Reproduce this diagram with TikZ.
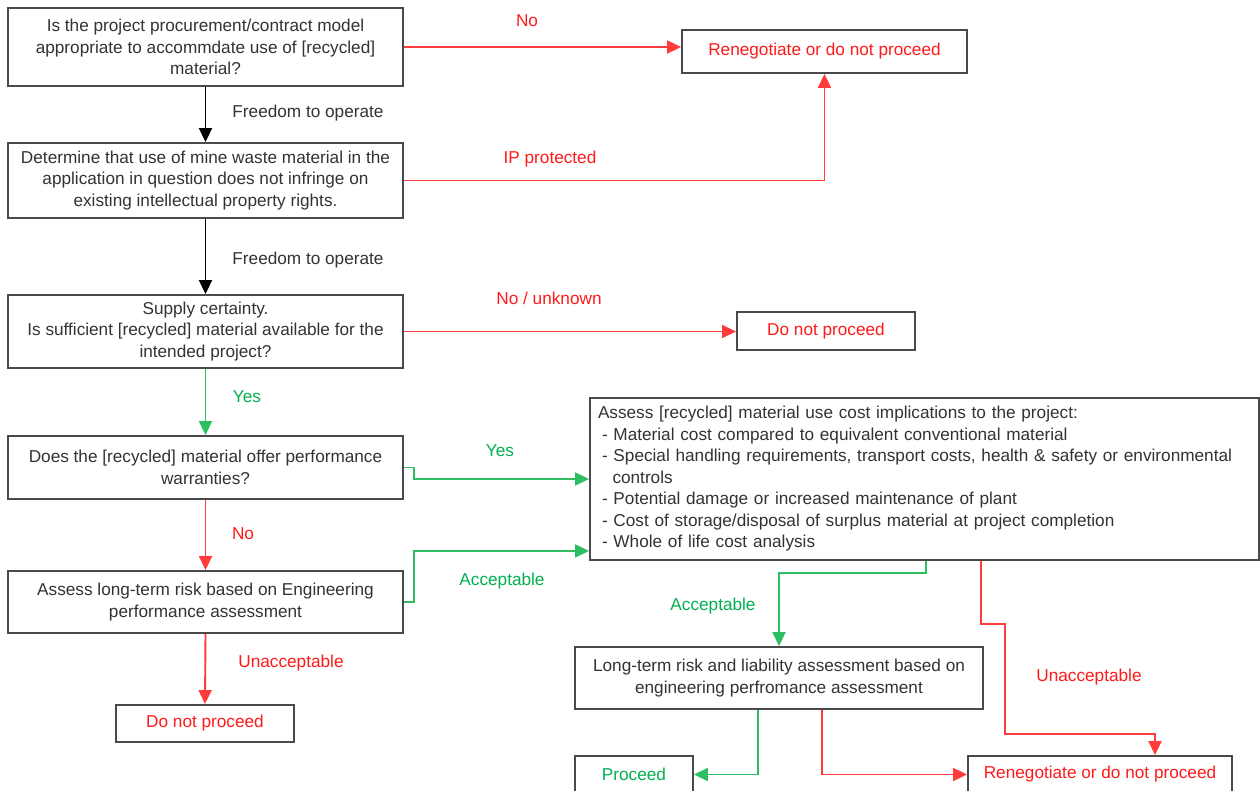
\documentclass[tikz,border=0pt]{standalone}
\usepackage{fontspec}
\setmainfont{Liberation Sans}
\usetikzlibrary{arrows.meta,calc}
\definecolor{boxline}{HTML}{4A4A4A}
\definecolor{txt}{HTML}{333333}
\definecolor{nored}{HTML}{FF1A1A}
\definecolor{redline}{HTML}{FF3B3B}
\definecolor{yesgreen}{HTML}{00B050}
\definecolor{greenline}{HTML}{2DBE62}
\tikzset{
  x=1pt, y=-1pt,
  every node/.style={font=\fontsize{17.2}{21.5}\selectfont, inner sep=0pt},
  stepbox/.style={draw=boxline, line width=1.9pt, fill=white, text=txt, align=center},
  endred/.style={stepbox, text=nored},
  endgreen/.style={stepbox, text=yesgreen},
  tipshape/.style={-{Triangle[length=14pt,width=13pt]}},
  flowblack/.style={draw=black, line width=1.9pt, tipshape},
  flowred/.style={draw=redline, line width=1.9pt, tipshape, color=redline},
  flowgreen/.style={draw=greenline, line width=1.9pt, tipshape, color=greenline},
  lblblack/.style={text=txt},
  lblred/.style={text=nored},
  lblgreen/.style={text=yesgreen},
}
\begin{document}
\begin{tikzpicture}
\clip (0,0) rectangle (1260,791);
\fill[white] (0,0) rectangle (1260,791);

% decision boxes on the left
\node[stepbox, minimum width=395, minimum height=78] (A) at (205.5,47)
  {Is the project procurement/contract model\\appropriate to accommdate use of [recycled]\\material?};
\node[stepbox, minimum width=395, minimum height=75] (B) at (205.5,180.5)
  {Determine that use of mine waste material in the\\application in question does not infringe on\\existing intellectual property rights.};
\node[stepbox, minimum width=395, minimum height=73] (C) at (205.5,331.5)
  {Supply certainty.\\Is sufficient [recycled] material available for the\\intended project?};
\node[stepbox, minimum width=395, minimum height=63] (D) at (205.5,467.5)
  {Does the [recycled] material offer performance\\warranties?};
\node[stepbox, minimum width=395, minimum height=62] (E) at (205.5,602)
  {Assess long-term risk based on Engineering\\performance assessment};

% outcome boxes
\node[endred, minimum width=285, minimum height=43] (Rt) at (824.5,51.5) {Renegotiate or do not proceed};
\node[endred, minimum width=178, minimum height=38] (Nr) at (826,331) {Do not proceed};
\node[endred, minimum width=178, minimum height=37] (Nl) at (205,723.5) {Do not proceed};
\node[endgreen, minimum width=118, minimum height=37] (P) at (634,774.5) {Proceed};
\node[endred, minimum width=264, minimum height=37] (Rb) at (1100,774.5) {Renegotiate or do not proceed};

% cost assessment box
\node[stepbox, align=left, text width=653, minimum width=669, minimum height=162, inner xsep=8pt] (Big) at (924.5,479)
  {Assess [recycled] material use cost implications to the project:\\
   \hspace*{4pt}- Material cost compared to equivalent conventional material\\
   \hspace*{4pt}- Special handling requirements, transport costs, health \& safety or environmental\\
   \hspace*{14.5pt}controls\\
   \hspace*{4pt}- Potential damage or increased maintenance of plant\\
   \hspace*{4pt}- Cost of storage/disposal of surplus material at project completion\\
   \hspace*{4pt}- Whole of life cost analysis};

\node[stepbox, minimum width=408, minimum height=62] (L) at (779,678)
  {Long-term risk and liability assessment based on\\engineering perfromance assessment};

% connectors
\draw[flowred] (A.east) -- (A.east -| Rt.west);
\draw[flowblack] (A.south) -- (B.north);
\draw[flowred] (B.east) -| (Rt.south);
\draw[flowblack] (B.south) -- (C.north);
\draw[flowred] (C.east) -- (C.east -| Nr.west);
\draw[flowgreen] (C.south) -- (D.north);
\draw[flowgreen] (D.east) -- ++(10,0) |- (Big.west);
\draw[flowred] (D.south) -- (E.north);
\draw[flowgreen] (E.east) -- ++(10,0) |- ($(Big.south west)+(0,-10)$);
\draw[flowred] (E.south) -- (Nl.north);
\draw[flowgreen] ($(Big.south)+(1.5,0)$) -- ++(0,12) -| (L.north);
\draw[flowred] ($(Big.south)+(56.5,0)$) -- ++(0,63) -- ++(24,0) -- ++(0,110) -| ($(Rb.north)+(55,0)$);
\draw[flowgreen] ($(L.south)+(-21,0)$) |- (P.east);
\draw[flowred] ($(L.south)+(43,0)$) |- (Rb.west);

% connector labels
\node[lblred] (lNo1) at (527,21) {No};
\node[lblblack] (lF1) at (308,113) {Freedom to operate};
\node[lblred] (lIP) at (550,159) {IP protected};
\node[lblblack] (lF2) at (308,260.5) {Freedom to operate};
\node[lblred] (lNU) at (549,298) {No / unknown};
\node[lblgreen] (lY1) at (247,397) {Yes};
\node[lblgreen] (lY2) at (500,451) {Yes};
\node[lblred] (lNo2) at (243,534) {No};
\node[lblgreen] (lA1) at (502,581) {Acceptable};
\node[lblred] (lU1) at (291,663) {Unacceptable};
\node[lblgreen] (lA2) at (713,606) {Acceptable};
\node[lblred] (lU2) at (1089,677) {Unacceptable};
\end{tikzpicture}
\end{document}
